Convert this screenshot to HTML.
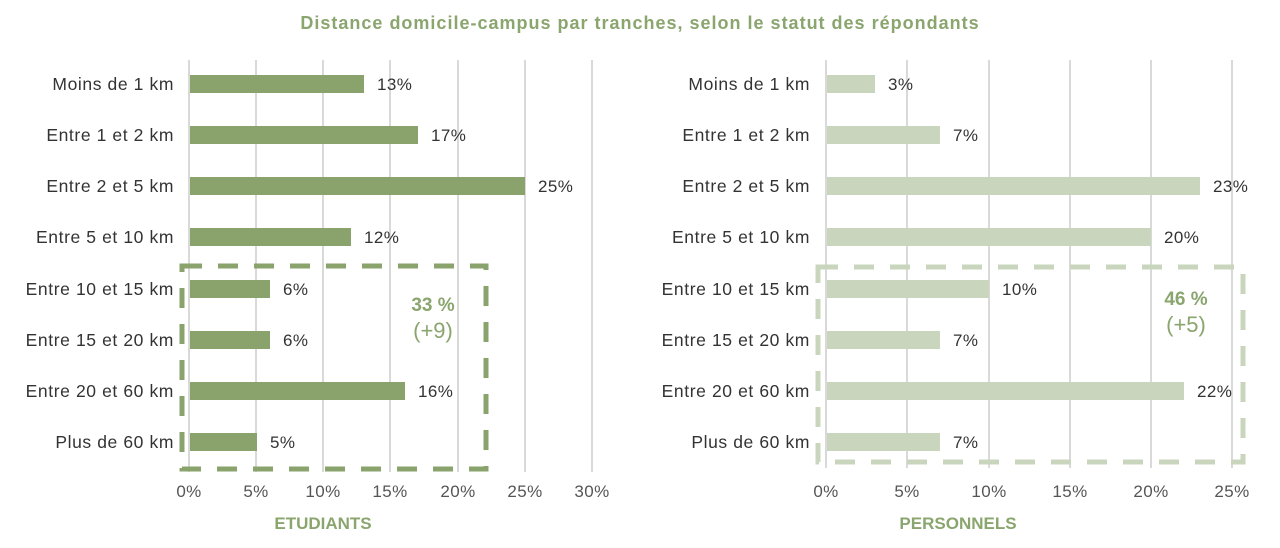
<!DOCTYPE html>
<html><head><meta charset="utf-8"><style>
body{margin:0;background:#fff;}
svg text{font-family:"Liberation Sans",sans-serif;}
</style></head><body>
<svg width="1280" height="543" xmlns="http://www.w3.org/2000/svg">
<text x="640" y="29" text-anchor="middle" font-size="18" font-weight="bold" letter-spacing="1" fill="#8aa56e">Distance domicile-campus par tranches, selon le statut des répondants</text>
<g stroke="#d9d9d9" stroke-width="2">
<line x1="189" y1="60" x2="189" y2="472"/><line x1="256" y1="60" x2="256" y2="472"/><line x1="323" y1="60" x2="323" y2="472"/><line x1="390" y1="60" x2="390" y2="472"/><line x1="458" y1="60" x2="458" y2="472"/><line x1="525" y1="60" x2="525" y2="472"/><line x1="592" y1="60" x2="592" y2="472"/>
<line x1="826" y1="60" x2="826" y2="468"/><line x1="907" y1="60" x2="907" y2="468"/><line x1="989" y1="60" x2="989" y2="468"/><line x1="1070" y1="60" x2="1070" y2="468"/><line x1="1151" y1="60" x2="1151" y2="468"/><line x1="1232" y1="60" x2="1232" y2="468"/>
</g>
<g fill="#8aa36c">
<rect x="190" y="75" width="174" height="18"/><rect x="190" y="126" width="228" height="18"/><rect x="190" y="177" width="335" height="18"/><rect x="190" y="228" width="161" height="18"/><rect x="190" y="280" width="80" height="18"/><rect x="190" y="331" width="80" height="18"/><rect x="190" y="382" width="215" height="18"/><rect x="190" y="433" width="67" height="18"/>
</g>
<g fill="#c9d6bd">
<rect x="827" y="75" width="48" height="18"/><rect x="827" y="126" width="113" height="18"/><rect x="827" y="177" width="373" height="18"/><rect x="827" y="228" width="324" height="18"/><rect x="827" y="280" width="162" height="18"/><rect x="827" y="331" width="113" height="18"/><rect x="827" y="382" width="357" height="18"/><rect x="827" y="433" width="113" height="18"/>
</g>
<g font-size="17.5" letter-spacing="0.6" fill="#333" text-anchor="end">
<text x="174" y="90">Moins de 1 km</text><text x="174" y="141">Entre 1 et 2 km</text><text x="174" y="192">Entre 2 et 5 km</text><text x="174" y="243">Entre 5 et 10 km</text><text x="174" y="295">Entre 10 et 15 km</text><text x="174" y="346">Entre 15 et 20 km</text><text x="174" y="397">Entre 20 et 60 km</text><text x="174" y="448">Plus de 60 km</text>
<text x="810" y="90">Moins de 1 km</text><text x="810" y="141">Entre 1 et 2 km</text><text x="810" y="192">Entre 2 et 5 km</text><text x="810" y="243">Entre 5 et 10 km</text><text x="810" y="295">Entre 10 et 15 km</text><text x="810" y="346">Entre 15 et 20 km</text><text x="810" y="397">Entre 20 et 60 km</text><text x="810" y="448">Plus de 60 km</text>
</g>
<g font-size="17" letter-spacing="0.4" fill="#333">
<text x="377" y="90">13%</text><text x="431" y="141">17%</text><text x="538" y="192">25%</text><text x="364" y="243">12%</text><text x="283" y="295">6%</text><text x="283" y="346">6%</text><text x="418" y="397">16%</text><text x="270" y="448">5%</text>
<text x="888" y="90">3%</text><text x="953" y="141">7%</text><text x="1213" y="192">23%</text><text x="1164" y="243">20%</text><text x="1002" y="295">10%</text><text x="953" y="346">7%</text><text x="1197" y="397">22%</text><text x="953" y="448">7%</text>
</g>
<g font-size="17" letter-spacing="0.4" fill="#555" text-anchor="middle">
<text x="189" y="497">0%</text><text x="256" y="497">5%</text><text x="323" y="497">10%</text><text x="390" y="497">15%</text><text x="458" y="497">20%</text><text x="525" y="497">25%</text><text x="592" y="497">30%</text>
<text x="826" y="497">0%</text><text x="907" y="497">5%</text><text x="989" y="497">10%</text><text x="1070" y="497">15%</text><text x="1151" y="497">20%</text><text x="1232" y="497">25%</text>
</g>
<text x="323" y="529" text-anchor="middle" font-size="17" font-weight="bold" fill="#8aa56e">ETUDIANTS</text>
<text x="958" y="529" text-anchor="middle" font-size="17" font-weight="bold" fill="#8aa56e">PERSONNELS</text>
<rect x="182" y="266" width="304" height="203" fill="none" stroke="#8aa36c" stroke-width="5" stroke-dasharray="20,16"/>
<rect x="818" y="267" width="425" height="195" fill="none" stroke="#c9d6bd" stroke-width="5" stroke-dasharray="20,16"/>
<g font-size="19" font-weight="bold" fill="#8aa56e" text-anchor="middle">
<text x="433" y="311">33 %</text><text x="433" y="338" font-size="22" font-weight="normal">(+9)</text>
<text x="1186" y="305">46 %</text><text x="1186" y="332" font-size="22" font-weight="normal">(+5)</text>
</g>
</svg>
</body></html>
